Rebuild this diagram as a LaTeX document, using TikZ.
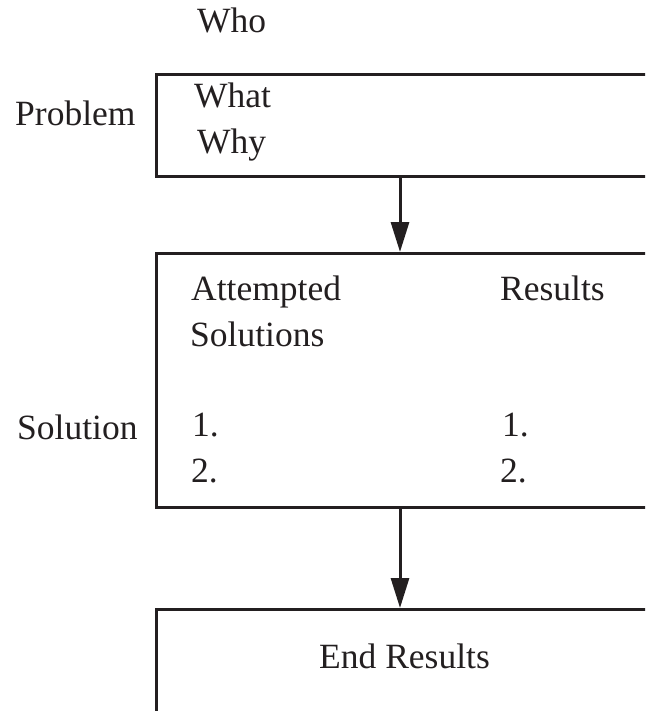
\documentclass[tikz,border=0pt]{standalone}
\usepackage{fontspec}
\setmainfont{Liberation Serif}
\usetikzlibrary{arrows.meta}
\definecolor{ink}{HTML}{231F20}
\begin{document}
\begin{tikzpicture}[x=1pt,y=-1pt,
  lbl/.style={anchor=base west,inner sep=0pt,text=ink,font=\fontsize{35.5}{40}\selectfont},
  boxst/.style={draw=ink,line width=3pt,rectangle,anchor=north west,inner sep=0pt},
  arr/.style={draw=ink,line width=3pt,-{Triangle[width=18pt,length=30pt]}}]
\useasboundingbox (0,0) rectangle (645,711);
\clip (0,0) rectangle (645,711);
% boxes
\node[boxst,minimum width=600pt,minimum height=102pt] (box1) at (155,73) {};
\node[boxst,minimum width=600pt,minimum height=254pt] (box2) at (155,252) {};
\node[boxst,minimum width=600pt,minimum height=200pt] (box3) at (155,608) {};
% texts
\node[lbl] (who) at (197,33) {Who};
\node[lbl] (problem) at (15,126) {Problem};
\node[lbl] (what) at (194,108) {What};
\node[lbl] (why) at (197,154) {Why};
\node[lbl] (att) at (191,300) {Attempted};
\node[lbl] (sols) at (190,346) {Solutions};
\node[lbl] (res) at (500,300) {Results};
\node[lbl] (solution) at (17,439) {Solution};
\node[lbl] (l1) at (192,436) {1.};
\node[lbl] (l2) at (191,482) {2.};
\node[lbl] (r1) at (502,436) {1.};
\node[lbl] (r2) at (500,482) {2.};
\node[lbl] (end) at (319,668) {End Results};
% connectors
\coordinate (ax) at (400,0);
\draw[arr] (box1.south -| ax) -- (box2.north -| ax);
\draw[arr] (box2.south -| ax) -- (box3.north -| ax);
\end{tikzpicture}
\end{document}
